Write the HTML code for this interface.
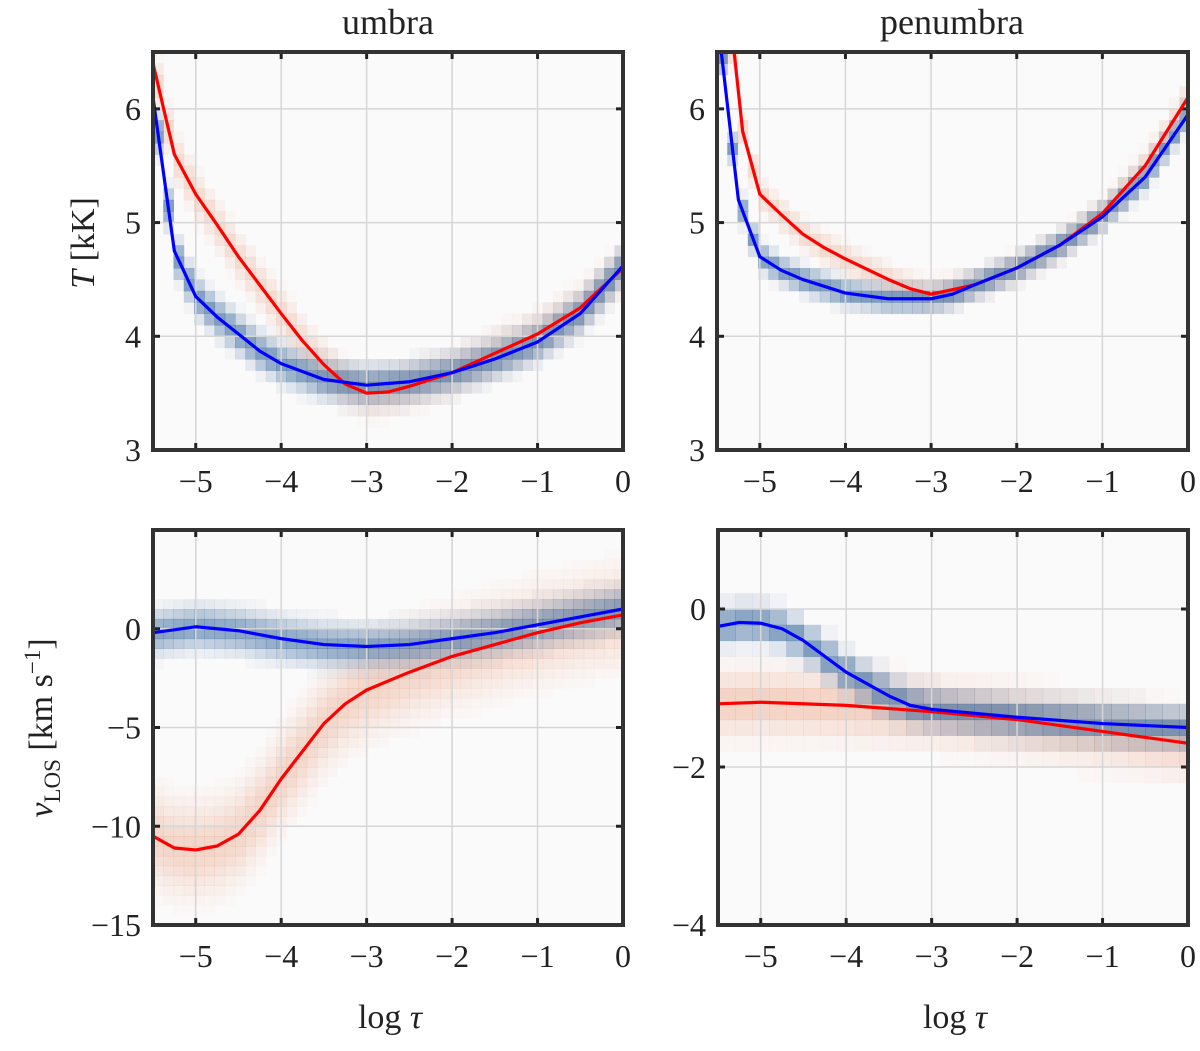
<!DOCTYPE html>
<html><head><meta charset="utf-8"><style>
html,body{margin:0;padding:0;background:#fff;}
svg text{font-family:"Liberation Serif",serif;fill:#222;}
</style></head><body>
<svg id="fig" width="1200" height="1046" xmlns="http://www.w3.org/2000/svg"></svg>
<script>
// ---- data ----
const uTx=[-5.5,-5.25,-5,-4.75,-4.5,-4.25,-4,-3.5,-3,-2.5,-2,-1.5,-1,-0.5,0];
const uTblue=[6.1,4.75,4.35,4.17,4.02,3.87,3.76,3.62,3.57,3.6,3.68,3.8,3.95,4.2,4.62];
const uTredX=[-5.5,-5.25,-5,-4.75,-4.5,-4.25,-4,-3.75,-3.5,-3.25,-3,-2.75,-2.5,-2,-1.5,-1,-0.5,0];
const uTred=[6.4,5.6,5.25,4.98,4.7,4.45,4.2,3.96,3.75,3.58,3.5,3.51,3.56,3.68,3.85,4.02,4.25,4.6];
const pTblueX=[-5.45,-5.25,-5,-4.75,-4.5,-4,-3.5,-3,-2.75,-2.5,-2,-1.5,-1,-0.5,0];
const pTblue=[6.5,5.2,4.7,4.58,4.5,4.38,4.33,4.33,4.37,4.45,4.6,4.8,5.05,5.4,5.95];
const pTredX=[-5.3,-5.2,-5,-4.75,-4.5,-4.25,-4,-3.5,-3.25,-3,-2.5,-2,-1.5,-1,-0.5,0];
const pTred=[6.5,5.8,5.25,5.07,4.9,4.78,4.68,4.5,4.42,4.37,4.45,4.6,4.8,5.08,5.5,6.1];
const uVblueX=[-5.5,-5,-4.5,-4,-3.5,-3,-2.5,-2,-1.5,-1,-0.5,0];
const uVblue=[-0.2,0.1,-0.1,-0.5,-0.8,-0.9,-0.8,-0.5,-0.2,0.2,0.6,1.0];
const uVredX=[-5.5,-5.25,-5,-4.75,-4.5,-4.25,-4,-3.5,-3.25,-3,-2.5,-2,-1.5,-1,-0.5,0];
const uVred=[-10.5,-11.1,-11.2,-11.0,-10.4,-9.2,-7.6,-4.8,-3.8,-3.1,-2.2,-1.4,-0.8,-0.2,0.3,0.7];
const pVblueX=[-5.5,-5.25,-5,-4.75,-4.5,-4,-3.5,-3.25,-3,-2,-1,0];
const pVblue=[-0.22,-0.17,-0.18,-0.25,-0.4,-0.8,-1.1,-1.22,-1.27,-1.37,-1.45,-1.5];
const pVredX=[-5.5,-5,-4,-3,-2,-1,0];
const pVred=[-1.2,-1.18,-1.22,-1.3,-1.4,-1.55,-1.7];
const xTicks=[-5,-4,-3,-2,-1,0];
const tTicks=[3,4,5,6];
const uvTicks=[-15,-10,-5,0];
const pvTicks=[-4,-2,0];

const NS='http://www.w3.org/2000/svg';
const svg=document.getElementById('fig');
function mk(tag,attrs,parent){const e=document.createElementNS(NS,tag);for(const k in attrs)e.setAttribute(k,attrs[k]);(parent||svg).appendChild(e);return e;}
function interp(xs,ys,x){if(x<=xs[0])return ys[0];for(let i=1;i<xs.length;i++){if(x<=xs[i]){const t=(x-xs[i-1])/(xs[i]-xs[i-1]);return ys[i-1]+t*(ys[i]-ys[i-1]);}}return ys[ys.length-1];}

function panel(name,x0,x1,y0,y1,ymin,ymax,yticks,series,binW,binH){
  const g=mk('g',{});
  
  
  const X=v=>x1+(v)*(x1-x0)/5.5;
  const Y=v=>y1-(v-ymin)*(y1-y0)/(ymax-ymin);
  mk('rect',{x:x0,y:y0,width:x1-x0,height:y1-y0,fill:'#fbfafa'},g);
  const cid='c'+name;
  const cp=mk('clipPath',{id:cid},g);mk('rect',{x:x0,y:y0,width:x1-x0,height:y1-y0},cp);
  const hm=mk('g',{'clip-path':'url(#'+cid+')'},g);
  
  
  series.forEach(s=>{
    for(let xv=-5.5;xv<0;xv+=binW){
      const c=interp(s.xs,s.ys,xv+binW/2);
      for(let yv=Math.floor((c-3*s.sig)/binH)*binH;yv<c+3*s.sig;yv+=binH){
        const d=(yv+binH/2-c)/s.sig;const a=Math.exp(-d*d/2)*s.amp;
        if(a<0.03)continue;
        const r=mk('rect',{x:X(xv),y:Y(yv+binH),width:X(xv+binW)-X(xv)+0.5,height:Y(yv)-Y(yv+binH)+0.5,fill:s.hc,'fill-opacity':a.toFixed(3)},hm);
        
        
      }
    }
  });
  xTicks.forEach(t=>{mk('line',{x1:X(t),x2:X(t),y1:y0,y2:y1,stroke:'#d6d6d6','stroke-width':1.5},g);
    mk('line',{x1:X(t),x2:X(t),y1:y0,y2:y0+7,stroke:'#222','stroke-width':3},g);
    mk('line',{x1:X(t),x2:X(t),y1:y1,y2:y1-7,stroke:'#222','stroke-width':3},g);
    const tx=mk('text',{x:X(t),y:y1+42,'text-anchor':'middle','font-size':32},g);tx.textContent=(t<0?'\u2212'+(-t):t);
    });
  yticks.forEach(t=>{mk('line',{x1:x0,x2:x1,y1:Y(t),y2:Y(t),stroke:'#d6d6d6','stroke-width':1.5},g);
    mk('line',{x1:x0,x2:x0+7,y1:Y(t),y2:Y(t),stroke:'#222','stroke-width':3},g);
    mk('line',{x1:x1,x2:x1-7,y1:Y(t),y2:Y(t),stroke:'#222','stroke-width':3},g);
    const tx=mk('text',{x:x0-12,y:Y(t)+11,'text-anchor':'end','font-size':32},g);tx.textContent=(t<0?'\u2212'+(-t):t);
    });
  const lg=mk('g',{'clip-path':'url(#'+cid+')'},g);
  series.forEach(s=>{
    const p=mk('polyline',{points:s.xs.map((x,i)=>X(x)+','+Y(s.ys[i])).join(' '),fill:'none',stroke:s.lc,'stroke-width':3.2,'stroke-linejoin':'round'},lg);
    
  });
  mk('rect',{x:x0,y:y0,width:x1-x0,height:y1-y0,fill:'none',stroke:'#333','stroke-width':4},g);
}
panel('umbra-temperature',153,623,52,450,3,6.5,tTicks,[
 {xs:uTredX,ys:uTred,lc:'#ff0000',hc:'#e8a080',sig:0.12,amp:0.35,name:'umbra-temperature-red-line'},
 {xs:uTx,ys:uTblue,lc:'#0000ff',hc:'#3a6a9e',sig:0.1,amp:0.65,name:'umbra-temperature-blue-line'}],0.12,0.1);
panel('penumbra-temperature',717,1188,52,450,3,6.5,tTicks,[
 {xs:pTredX,ys:pTred,lc:'#ff0000',hc:'#e8a080',sig:0.08,amp:0.35,name:'penumbra-temperature-red-line'},
 {xs:pTblueX,ys:pTblue,lc:'#0000ff',hc:'#3a6a9e',sig:0.07,amp:0.65,name:'penumbra-temperature-blue-line'}],0.12,0.1);
panel('umbra-velocity',153,623,530,925,-15,5,uvTicks,[
 {xs:uVredX,ys:uVred,lc:'#ff0000',hc:'#e8a080',sig:1.4,amp:0.4,name:'umbra-velocity-red-line'},
 {xs:uVblueX,ys:uVblue,lc:'#0000ff',hc:'#3a6a9e',sig:0.65,amp:0.6,name:'umbra-velocity-blue-line'}],0.12,0.5);
panel('penumbra-velocity',718,1188,530,925,-4,1,pvTicks,[
 {xs:pVredX,ys:pVred,lc:'#ff0000',hc:'#e8a080',sig:0.25,amp:0.45,name:'penumbra-velocity-red-line'},
 {xs:pVblueX,ys:pVblue,lc:'#0000ff',hc:'#3a6a9e',sig:0.15,amp:0.65,name:'penumbra-velocity-blue-line'}],0.2,0.2);

function txt(x,y,s,size,name,rot,html){const t=mk('text',{x:x,y:y,'text-anchor':'middle','font-size':size});if(rot)t.setAttribute('transform','rotate(-90 '+x+' '+y+')');if(html)t.innerHTML=html;else t.textContent=s;return t;}
txt(388,34,'umbra',36,'umbra-title');
txt(952,34,'penumbra',36,'penumbra-title');
txt(390,1028,'',34,'x-axis-title-left',0,'log <tspan font-style="italic">τ</tspan>');
txt(955,1028,'',34,'x-axis-title-right',0,'log <tspan font-style="italic">τ</tspan>');
txt(94,243,'',34,'y-axis-title-temperature',true,'<tspan font-style="italic">T</tspan> [kK]');
txt(52,728,'',34,'y-axis-title-velocity',true,'<tspan font-style="italic">v</tspan><tspan font-size="23" dy="8">LOS</tspan><tspan dy="-8"> [km s</tspan><tspan font-size="23" dy="-12">−1</tspan><tspan dy="12">]</tspan>');
</script>
</body></html>
